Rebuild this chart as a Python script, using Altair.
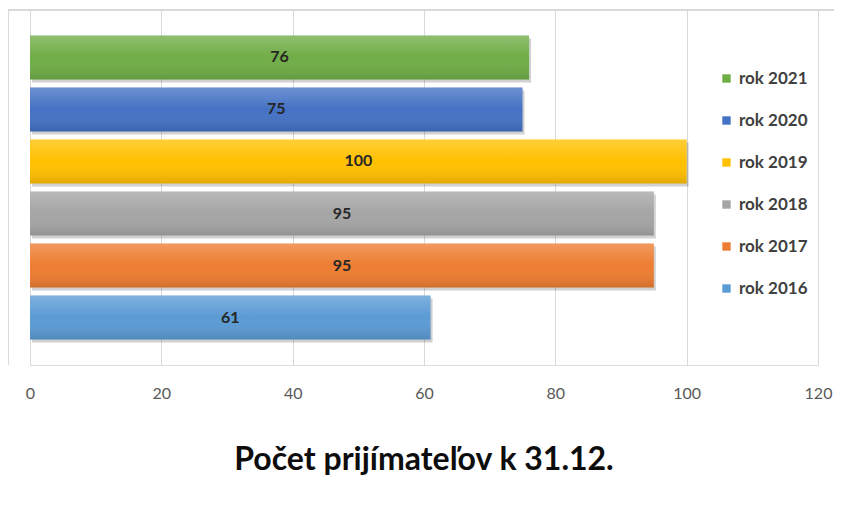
import altair as alt
import pandas as pd

years = ["rok 2021", "rok 2020", "rok 2019", "rok 2018", "rok 2017", "rok 2016"]
values = [76, 75, 100, 95, 95, 61]
colors = ["#70AD47", "#4472C4", "#FFC000", "#A5A5A5", "#ED7D31", "#5B9BD5"]
x_ticks = [0, 20, 40, 60, 80, 100, 120]
title_text = "Počet prijímateľov k 31.12."

df = pd.DataFrame({"rok": years, "pocet": values})

FONT = "Lato"

y_enc = alt.Y("rok:N", sort=years, axis=None,
              scale=alt.Scale(paddingInner=0.154, paddingOuter=0.49))
x_scale = alt.Scale(domain=[0, 120], nice=False)
x_axis = alt.Axis(values=x_ticks, title=None, domain=False, ticks=False,
                  grid=True, gridColor="#D9D9D9", gridWidth=1,
                  labelFont=FONT, labelFontSize=16, labelColor="#595959",
                  labelPadding=20, labelFlush=False)

shadow = alt.Chart(df).mark_bar(color="#000000", opacity=0.18, yOffset=3, xOffset=2).encode(
    x=alt.X("pocet:Q", scale=x_scale, axis=x_axis),
    y=y_enc,
)

bars = alt.Chart(df).mark_bar().encode(
    x=alt.X("pocet:Q", scale=x_scale, axis=x_axis),
    y=y_enc,
    color=alt.Color("rok:N", sort=years,
                    scale=alt.Scale(domain=years, range=colors),
                    legend=alt.Legend(title=None, orient="none", legendX=688, legendY=60,
                                      symbolType="square", symbolSize=70, symbolStrokeWidth=0,
                                      labelFont=FONT, labelFontSize=17, labelFontWeight="bold",
                                      labelColor="#404040", rowPadding=24, symbolOffset=0)),
)

sheen = alt.Chart(df).mark_bar(
    color=alt.LinearGradient(
        gradient="linear", x1=0, y1=0, x2=0, y2=1,
        stops=[
            alt.GradientStop(offset=0, color="rgba(255,255,255,0.22)"),
            alt.GradientStop(offset=0.5, color="rgba(255,255,255,0.0)"),
            alt.GradientStop(offset=1, color="rgba(0,0,0,0.12)"),
        ],
    )
).encode(
    x=alt.X("pocet:Q", scale=x_scale, axis=x_axis),
    y=y_enc,
)

labels = alt.Chart(df).transform_calculate(mid="datum.pocet / 2").mark_text(
    font=FONT, fontSize=16, fontWeight="bold", color="#262626"
).encode(
    x=alt.X("mid:Q", scale=x_scale, axis=x_axis),
    y=y_enc,
    text=alt.Text("pocet:Q"),
)

frame = alt.Chart(df).mark_rule(color="#D9D9D9", strokeWidth=1).encode(
    x=alt.value(-22), x2=alt.value(830), y=alt.value(0)
)
frame_left = alt.Chart(df).mark_rule(color="#D9D9D9", strokeWidth=1).encode(
    x=alt.value(-22), y=alt.value(0), y2=alt.value(355)
)

chart = alt.layer(frame, frame_left, shadow, bars, sheen, labels).properties(
    width=788, height=355,
    title=alt.TitleParams(title_text, orient="bottom", anchor="middle", font=FONT,
                          fontSize=32, fontWeight="bold", color="#0D0D0D", offset=44),
    autosize=alt.AutoSizeParams(type="none"),
    padding={"left": 22, "top": 2, "right": 16, "bottom": 135},
).configure_view(stroke=None).configure(background="white")

chart.save("out.html", embed_options={"renderer": "svg", "actions": False})
